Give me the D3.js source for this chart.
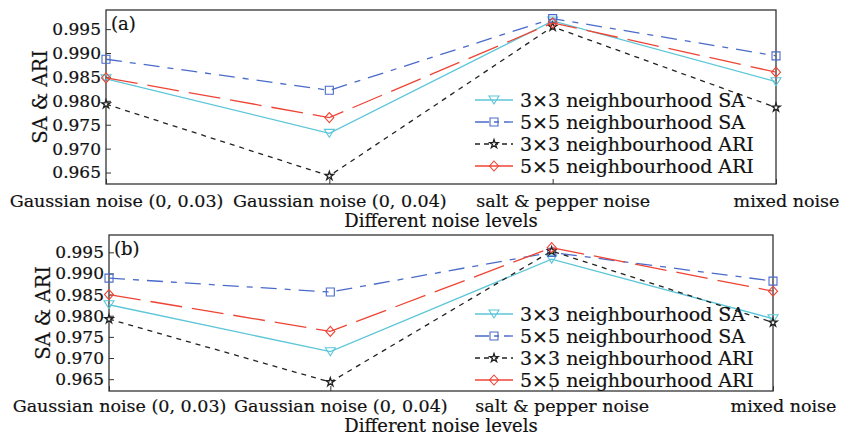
<!DOCTYPE html>
<html>
<head>
<meta charset="utf-8">
<script src="https://cdn.jsdelivr.net/npm/d3@7"></script>
<style>
  body { margin: 0; background: #fff; }
  svg { display: block; font-family: 'DejaVu Serif', serif; }
  svg text { stroke: #111; stroke-width: 0.2px; }
</style>
</head>
<body>
<svg id="chart" width="844" height="436"></svg>
<script>
// Categories on the x axis (shared by both panels)
const categories = ['Gaussian noise (0, 0.03)', 'Gaussian noise (0, 0.04)', 'salt & pepper noise', 'mixed noise'];
const yTicks = [0.965, 0.970, 0.975, 0.980, 0.985, 0.990, 0.995];
const seriesNames = ['3\u00d73 neighbourhood SA', '5\u00d75 neighbourhood SA', '3\u00d73 neighbourhood ARI', '5\u00d75 neighbourhood ARI'];

// Panel (a) values
const aSA3 = [0.9846, 0.9732, 0.9967, 0.9840];
const aSA5 = [0.9887, 0.9822, 0.9972, 0.9894];
const aARI3 = [0.9793, 0.9643, 0.9955, 0.9786];
const aARI5 = [0.9848, 0.9765, 0.9963, 0.9860];

// Panel (b) values
const bSA3 = [0.9826, 0.9715, 0.9934, 0.9793];
const bSA5 = [0.9889, 0.9856, 0.9950, 0.9882];
const bARI3 = [0.9792, 0.9643, 0.9953, 0.9784];
const bARI5 = [0.9850, 0.9763, 0.9961, 0.9858];

// Line styles, same order as seriesNames
const styles = [
    { color: '#5cc6d8', dash: null, legendDash: null, marker: 'triangle' },
    { color: '#4a6bc9', dash: '16,8,6,8', legendDash: '14,5,5,5', marker: 'square' },
    { color: '#222222', dash: '5,5', legendDash: '5,4', marker: 'star' },
    { color: '#ee4434', dash: '32,10', legendDash: null, marker: 'diamond' }
];

const panels = [
    { label: '(a)', values: [aSA3, aSA5, aARI3, aARI5], left: 106, top: 10, right: 776, bottom: 184, domain: [0.9626, 0.999], legendY: 100, yLabelX: 40, tickY: 22.5, titleY: 42.5 },
    { label: '(b)', values: [bSA3, bSA5, bARI3, bARI5], left: 109, top: 235, right: 773, bottom: 391, domain: [0.9622, 0.9991], legendY: 314, yLabelX: 43, tickY: 21, titleY: 41 }
];

const svg = d3.select('#chart');

// Draw a hollow marker centred at (x, y)
function drawMarker(g, type, x, y, color) {
    let path;
    if (type === 'triangle') path = `M${x - 5},${y - 4}L${x + 5},${y - 4}L${x},${y + 4}Z`;
    else if (type === 'square') path = `M${x - 4},${y - 4}h8v8h-8Z`;
    else if (type === 'diamond') path = `M${x},${y - 5}L${x + 4.5},${y}L${x},${y + 5}L${x - 4.5},${y}Z`;
    else path = d3.symbol().type(d3.symbolStar).size(22)();
    const el = g.append('path')
        .attr('fill', type === 'star' ? '#fff' : 'none')
        .attr('stroke', color)
        .attr('stroke-width', type === 'star' ? 1.3 : 1.1)
        .attr('d', path);
    if (type === 'star') el.attr('transform', `translate(${x},${y})`);
}

panels.forEach(p => {
    const g = svg.append('g');

    const x = d3.scalePoint().domain(categories).range([p.left, p.right]).padding(0);
    const y = d3.scaleLinear().domain(p.domain).range([p.bottom, p.top]);

    // Y axis with inward ticks
    const yAxis = g.append('g')
        .attr('transform', `translate(${p.left},0)`)
        .call(d3.axisLeft(y).tickValues(yTicks).tickSize(-5).tickPadding(5).tickFormat(d3.format('.3f')));
    yAxis.select('.domain').remove();
    yAxis.selectAll('line').attr('stroke', '#333');
    yAxis.selectAll('text').attr('font-size', '17px').attr('fill', '#111').attr('font-family', 'DejaVu Serif');

    // X axis with inward ticks
    const xAxis = g.append('g')
        .attr('transform', `translate(0,${p.bottom})`)
        .call(d3.axisBottom(x).tickSize(-5));
    xAxis.select('.domain').remove();
    xAxis.selectAll('line').attr('stroke', '#333');
    xAxis.selectAll('text')
        .attr('y', p.tickY).attr('dy', null).attr('dx', 10)
        .attr('font-size', '17.5px').attr('fill', '#111').attr('font-family', 'DejaVu Serif');

    // Frame
    g.append('rect')
        .attr('x', p.left).attr('y', p.top)
        .attr('width', p.right - p.left).attr('height', p.bottom - p.top)
        .attr('fill', 'none').attr('stroke', '#333').attr('stroke-width', 1.3);

    // Lines and markers
    p.values.forEach((vals, i) => {
        const st = styles[i];
        const line = d3.line().x((d, j) => x(categories[j])).y(d => y(d));
        g.append('path')
            .datum(vals)
            .attr('d', line)
            .attr('fill', 'none')
            .attr('stroke', st.color)
            .attr('stroke-width', 1.3)
            .attr('stroke-dasharray', st.dash);
        vals.forEach((v, j) => drawMarker(g, st.marker, x(categories[j]), y(v), st.color));
    });

    // Panel label
    g.append('text')
        .attr('x', p.left + 5).attr('y', p.top + 20)
        .attr('font-size', '18px').attr('fill', '#111')
        .text(p.label);

    // Axis titles
    g.append('text')
        .attr('transform', `translate(${p.yLabelX},${(p.top + p.bottom) / 2}) rotate(-90)`)
        .attr('text-anchor', 'middle').attr('dy', '0.35em')
        .attr('font-size', '19.5px').attr('fill', '#111')
        .text('SA & ARI');

    g.append('text')
        .attr('x', (p.left + p.right) / 2).attr('y', p.bottom + p.titleY)
        .attr('text-anchor', 'middle')
        .attr('font-size', '18px').attr('fill', '#111')
        .text('Different noise levels');

    // Legend (no box)
    seriesNames.forEach((name, i) => {
        const st = styles[i];
        const ly = p.legendY + i * 22;
        g.append('line')
            .attr('x1', 475).attr('x2', 513).attr('y1', ly).attr('y2', ly)
            .attr('stroke', st.color).attr('stroke-width', 1.3)
            .attr('stroke-dasharray', st.legendDash);
        drawMarker(g, st.marker, 494, ly, st.color);
        g.append('text')
            .attr('x', 520).attr('y', ly).attr('dy', '0.35em')
            .attr('font-size', '19px').attr('fill', '#111')
            .text(name);
    });
});
</script>
</body>
</html>
